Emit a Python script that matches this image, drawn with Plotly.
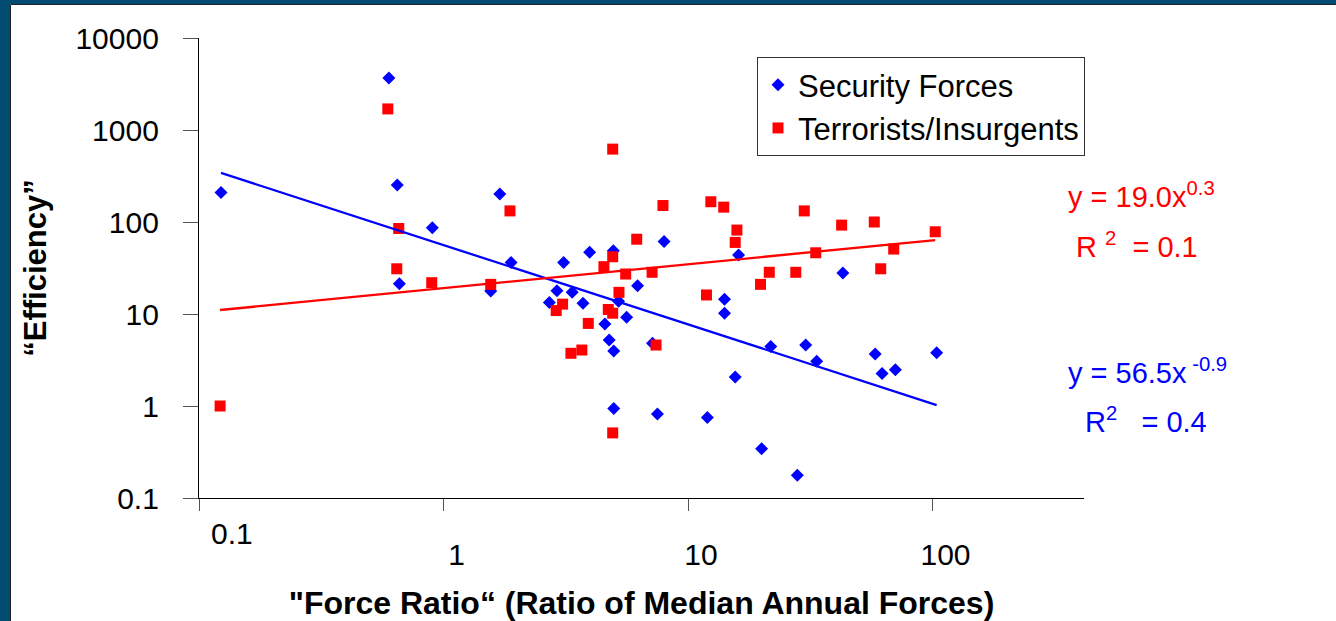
import numpy as np
import plotly.graph_objects as go

# ---------------- data ----------------
sf_ratio = [0.123, 0.598, 0.647, 0.90, 0.66, 1.70, 7.98, 16.1, 43.0, 14.1,
            14.1, 3.96, 4.95, 3.10, 1.89, 1.56, 6.22, 2.91, 3.36, 2.71,
            3.72, 5.2, 5.61, 4.57, 4.76, 4.97, 7.16, 4.97, 7.5, 12.0,
            15.6, 20.0, 28.0, 21.8, 30.3, 33.6, 58.3, 62.2, 70.5, 104.0]
sf_eff = [209, 3680, 252, 86.5, 21.3, 201, 61.5, 43.8, 27.9, 14.5,
          10.2, 47, 48.6, 36.4, 36.4, 17.8, 20.3, 17.9, 17.2, 13.3,
          13.1, 13.8, 9.2, 7.8, 5.22, 3.96, 4.8, 0.94, 0.82, 0.75,
          2.07, 0.344, 0.177, 4.42, 4.6, 3.06, 3.68, 2.25, 2.47, 3.8]

ti_ratio = [0.122, 0.592, 0.656, 0.644, 0.895, 1.87, 4.92, 7.9, 12.4, 14.0,
            15.85, 15.6, 29.9, 42.5, 57.8, 69.4, 33.3, 21.5, 27.6, 19.8,
            61.4, 11.9, 6.17, 4.92, 4.53, 1.56, 5.56, 7.13, 5.22, 3.07,
            2.89, 4.72, 4.92, 3.91, 3.32, 3.68, 7.4, 4.92, 102.6]
ti_eff = [1.0, 1695, 85, 31, 21.9, 132, 620, 151, 166, 145,
          81.7, 60, 132, 92.5, 100, 50.8, 46.3, 28.4, 28.4, 21,
          31, 16.1, 65, 41.9, 32.7, 21, 27.2, 28.4, 17.2, 12.8,
          10.9, 11.2, 10.2, 7.9, 3.74, 4.06, 4.6, 0.51, 78.3]

# power trend lines y = a * x^b (as drawn in the reference)
sf_trend_a, sf_trend_b = 56.1, -0.862
ti_trend_a, ti_trend_b = 19.1, 0.26

y_ticks = [0.1, 1, 10, 100, 1000, 10000]
y_tick_labels = ["0.1", "1", "10", "100", "1000", "10000"]
x_ticks = [0.1, 1, 10, 100]
x_tick_labels = ["0.1", "1", "10", "100"]

series_names = ["Security Forces", "Terrorists/Insurgents"]
eq_sf = ["y = 56.5x<sup> -0.9</sup>", "R<sup>2</sup>\u00a0\u00a0 = 0.4"]
eq_ti = ["y = 19.0x<sup>0.3</sup>", "R\u00a0<sup>2</sup>\u00a0\u00a0= 0.1"]

# ---------------- layout geometry ----------------
W, H = 1336, 621
L, R, T, B = 199, 252, 38, 123
PW, PH = W - L - R, H - T - B

def px(xp):
    return (xp - L) / PW

def py(yp):
    return (T + PH - yp) / PH

BLUE = "#0000FF"
RED = "#FF0000"
FRAME = "#024B73"
FONT = "Liberation Sans, Arial, sans-serif"

fig = go.Figure()

fig.add_trace(go.Scatter(
    x=sf_ratio, y=sf_eff, mode="markers", name=series_names[0],
    marker=dict(symbol="diamond", size=10, color=BLUE, line=dict(width=0)),
))
fig.add_trace(go.Scatter(
    x=ti_ratio, y=ti_eff, mode="markers", name=series_names[1],
    marker=dict(symbol="square", size=11, color=RED, line=dict(width=0)),
))

def trend(xs, a, b):
    xr = np.array([min(xs), max(xs)])
    return xr, a * xr ** b

tx, ty = trend(sf_ratio, sf_trend_a, sf_trend_b)
fig.add_trace(go.Scatter(x=tx, y=ty, mode="lines", showlegend=False,
                         line=dict(color=BLUE, width=2.3), hoverinfo="skip"))
tx, ty = trend(ti_ratio, ti_trend_a, ti_trend_b)
fig.add_trace(go.Scatter(x=tx, y=ty, mode="lines", showlegend=False,
                         line=dict(color=RED, width=2.3), hoverinfo="skip"))

annotations = []
# x tick label 0.1 (offset in the reference)
annotations.append(dict(xref="paper", yref="paper", x=px(232), y=py(533),
                        text=x_tick_labels[0], showarrow=False,
                        xanchor="center", yanchor="middle",
                        font=dict(family=FONT, size=30, color="black")))
# trend equations
for txt, (xl, yc) in zip(eq_ti, [(1066, 195), (1074, 245)]):
    annotations.append(dict(xref="paper", yref="paper", x=px(xl), y=py(yc),
                            text=txt, showarrow=False, xanchor="left",
                            yanchor="middle", align="left",
                            font=dict(family=FONT, size=29, color=RED)))
for txt, (xl, yc) in zip(eq_sf, [(1066, 371), (1083, 420)]):
    annotations.append(dict(xref="paper", yref="paper", x=px(xl), y=py(yc),
                            text=txt, showarrow=False, xanchor="left",
                            yanchor="middle", align="left",
                            font=dict(family=FONT, size=29, color=BLUE)))

shapes = [
    # slide frame
    dict(type="rect", xref="paper", yref="paper", x0=px(0), x1=px(10),
         y0=py(H), y1=py(0), fillcolor=FRAME, line=dict(width=0), layer="below"),
    dict(type="rect", xref="paper", yref="paper", x0=px(0), x1=px(W),
         y0=py(4), y1=py(0), fillcolor=FRAME, line=dict(width=0), layer="below"),
    dict(type="line", xref="paper", yref="paper", x0=px(10.5), x1=px(10.5),
         y0=py(H), y1=py(4.5), line=dict(color="#222222", width=1), layer="below"),
    dict(type="line", xref="paper", yref="paper", x0=px(10.5), x1=px(W),
         y0=py(4.5), y1=py(4.5), line=dict(color="#222222", width=1), layer="below"),
]

fig.update_layout(
    width=W, height=H,
    margin=dict(l=L, r=R, t=T, b=B, pad=0, autoexpand=False),
    paper_bgcolor="white", plot_bgcolor="white",
    font=dict(family=FONT, color="black"),
    showlegend=True,
    legend=dict(x=px(757), y=py(57), xanchor="left", yanchor="top",
                bgcolor="white", bordercolor="#333333", borderwidth=1,
                font=dict(family=FONT, size=31, color="black"),
                itemsizing="trace", tracegroupgap=0),
    annotations=annotations,
    shapes=shapes,
    xaxis=dict(type="log", range=[-1, -1 + PW / 244.5], automargin=False,
               tickvals=x_ticks, ticktext=[""] + x_tick_labels[1:],
               ticks="outside", ticklen=12, tickcolor="#555555", tickwidth=1,
               showline=True, linecolor="black", linewidth=1.3,
               showgrid=False, zeroline=False,
               tickfont=dict(family=FONT, size=30, color="black"),
               ticklabelshift=13, ticklabelstandoff=18,
               title=dict(text="\"Force Ratio\u201c (Ratio of Median Annual Forces)",
                          font=dict(family=FONT, size=32, color="black", weight="bold"),
                          standoff=25)),
    yaxis=dict(type="log", range=[-1, 4], automargin=False,
               tickvals=y_ticks, ticktext=y_tick_labels,
               ticks="outside", ticklen=15, tickcolor="#555555", tickwidth=1,
               showline=True, linecolor="black", linewidth=1.3,
               showgrid=False, zeroline=False,
               tickfont=dict(family=FONT, size=30, color="black"),
               ticklabelstandoff=18,
               title=dict(text="\u201cEfficiency\u201d",
                          font=dict(family=FONT, size=31, color="black", weight="bold"),
                          standoff=19)),
)

fig.write_html("out.html", config={"displayModeBar": False},
               post_script="document.body.style.margin='0';document.body.style.overflow='hidden';")
